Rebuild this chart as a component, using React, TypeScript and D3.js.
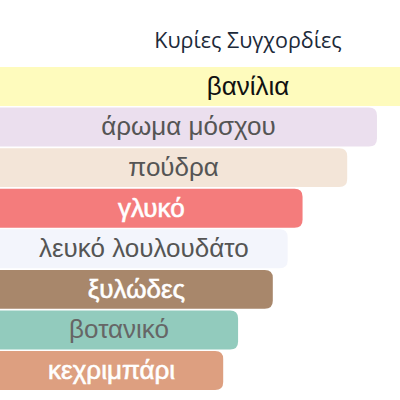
import React from 'react'
import * as d3 from 'd3'

const title = 'Κυρίες Συγχορδίες'
const accords = ['βανίλια', 'άρωμα μόσχου', 'πούδρα', 'γλυκό', 'λευκό λουλουδάτο', 'ξυλώδες', 'βοτανικό', 'κεχριμπάρι']
const strengths = [100, 76, 70, 61, 58, 55, 48, 45]
const barColors = ['#fefbbd', '#ebdfee', '#f3e5d8', '#f47c7c', '#f3f5fc', '#a8876b', '#92cbbd', '#dd9f80']
const textColors = ['#111111', '#555555', '#555555', '#ffffff', '#555555', '#ffffff', '#666666', '#ffffff']

const W = 400
const H = 400
const plotWidth = 496
const labelFont = "'Liberation Sans', Arial, sans-serif"
const labelSize = 26

// only the right end is rounded
const barPath = (x0: number, x1: number, y0: number, h: number, r: number) =>
  `M${x0},${y0}H${x1 - r}Q${x1},${y0} ${x1},${y0 + r}V${y0 + h - r}Q${x1},${y0 + h} ${x1 - r},${y0 + h}H${x0}Z`

// shrink a label so it takes at most 3/4 of its bar
const ctx = document.createElement('canvas').getContext('2d')
const fitSize = (label: string, barW: number) => {
  if (!ctx) return labelSize
  ctx.font = `${labelSize}px ${labelFont}`
  const tw = ctx.measureText(label).width
  return tw > barW * 0.75 ? (labelSize * barW * 0.75) / tw : labelSize
}

export default function App() {
  const x = d3.scaleLinear().domain([0, 100]).range([0, plotWidth])
  const y = d3.scaleBand<string>().domain(accords).range([67, 390]).paddingInner(0.04)

  return (
    <svg
      width={W}
      height={H}
      style={{ position: 'absolute', left: 0, top: 0, background: '#fff' }}
    >
      <text
        x={plotWidth / 2}
        y={48}
        textAnchor="middle"
        fontFamily="'Open Sans', sans-serif"
        fontSize={21.5}
        fill="#1c2a3a"
      >
        {title}
      </text>
      {accords.map((a, i) => {
        const y0 = y(a)!
        const w = x(strengths[i])
        const light = textColors[i] === '#ffffff'
        return (
          <g key={a}>
            <path d={barPath(0, w, y0, y.bandwidth(), 8)} fill={barColors[i]} />
            <text
              x={w / 2}
              y={y0 + y.bandwidth() / 2}
              dy="0.32em"
              textAnchor="middle"
              fontFamily={labelFont}
              fontSize={fitSize(a, w)}
              fill={textColors[i]}
              stroke={light ? textColors[i] : 'none'}
              strokeWidth={0.6}
            >
              {a}
            </text>
          </g>
        )
      })}
    </svg>
  )
}
